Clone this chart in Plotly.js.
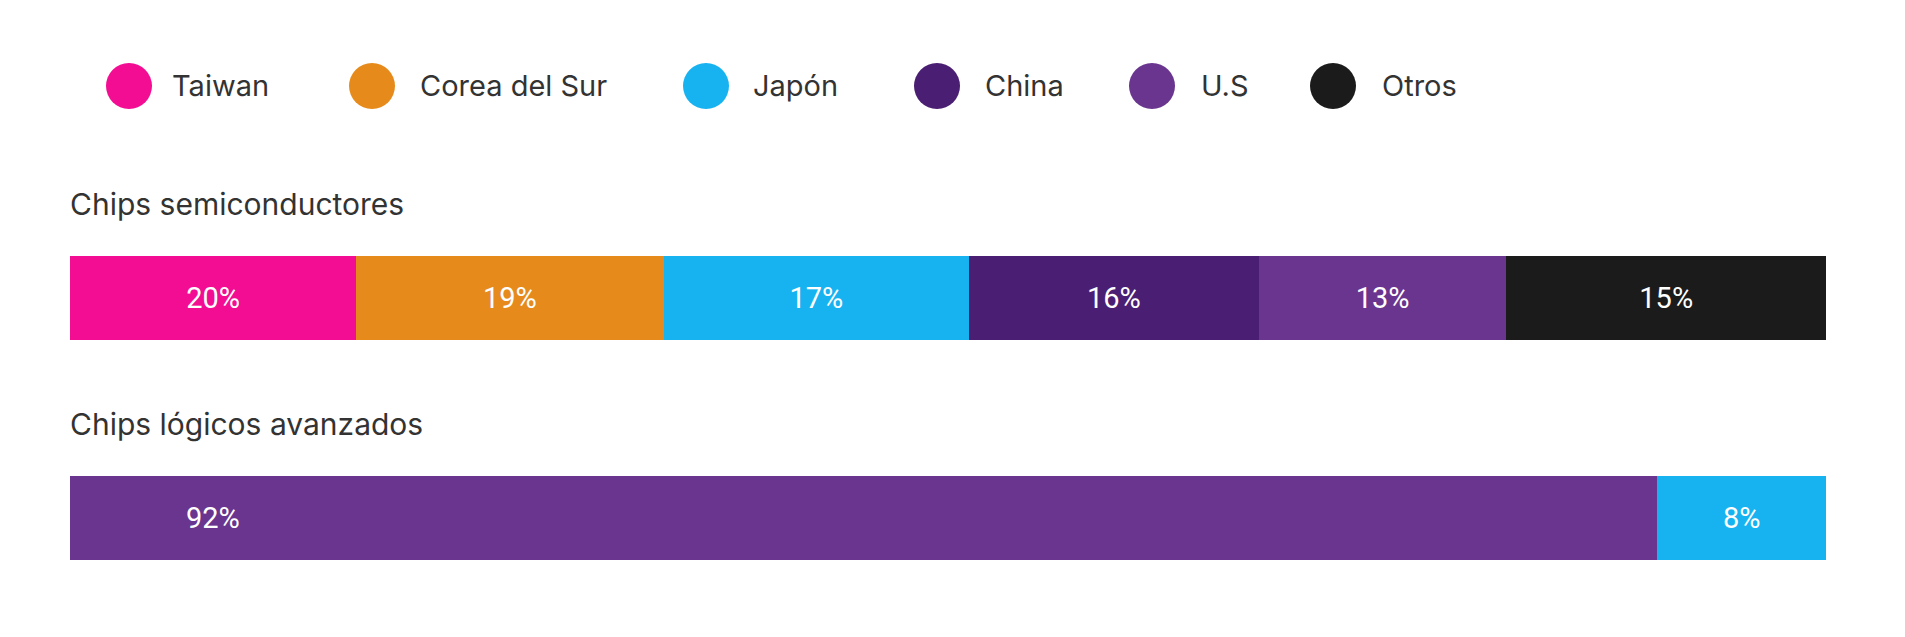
<!DOCTYPE html>
<html>
<head>
<meta charset="utf-8">
<script src="https://cdn.plot.ly/plotly-3.0.1.min.js"></script>
<style>
  html, body { margin: 0; padding: 0; background: #ffffff; }
  #chart { width: 1905px; height: 637px; }
</style>
</head>
<body>
<div id="chart"></div>
<script>
// ---------------- DATA ----------------
const categories = ['Chips semiconductores', 'Chips lógicos avanzados'];

const countries = ['Taiwan', 'Corea del Sur', 'Japón', 'China', 'U.S', 'Otros'];
const countryColors = ['#F20D93', '#E68B1B', '#17B3F1', '#4A1E72', '#69358F', '#1B1B1B'];

// Row 1: Chips semiconductores (bar lengths, labels as printed)
const row1Countries = ['Taiwan', 'Corea del Sur', 'Japón', 'China', 'U.S', 'Otros'];
const row1Shares = [16.3, 17.5, 17.4, 16.5, 14.1, 18.2];
const row1Labels = ['20%', '19%', '17%', '16%', '13%', '15%'];

// Row 2: Chips lógicos avanzados
const row2Countries = ['U.S', 'Japón'];
const row2Shares = [90.4, 9.6];
const row2Labels = ['92%', '8%'];

// ---------------- LAYOUT CONSTANTS ----------------
const W = 1905, H = 637;
const M = {l: 70, r: 79, t: 188, b: 9};
const plotW = W - M.l - M.r, plotH = H - M.t - M.b;
const px2x = px => (px - M.l) / plotW;
const px2y = py => (H - M.b - py) / plotH;

const legendCircleX = [129, 372, 706, 937, 1152, 1333];
const legendTextX = [170, 418, 751, 983, 1199, 1380];
const legendY = 86;
const legendR = 23;

const textFont = 'Inter, "Open Sans", "DejaVu Sans", sans-serif';
const labelFont = 'Roboto, "Open Sans", sans-serif';
const textColor = '#333333';

const colorOf = c => countryColors[countries.indexOf(c)];

// ---------------- TRACES ----------------
const traces = [];
row1Countries.forEach((c, i) => {
  traces.push({
    type: 'bar', orientation: 'h',
    x: [row1Shares[i]], y: [categories[0]],
    name: c,
    marker: {color: colorOf(c), line: {width: 0}},
    text: [row1Labels[i]],
    textposition: 'inside', insidetextanchor: 'middle',
    textfont: {family: labelFont, size: 29, color: '#ffffff'},
    constraintext: 'none',
    showlegend: false, hoverinfo: 'skip'
  });
});
row2Countries.forEach((c, i) => {
  const showInside = i !== 0;
  traces.push({
    type: 'bar', orientation: 'h',
    x: [row2Shares[i]], y: [categories[1]],
    name: c,
    marker: {color: colorOf(c), line: {width: 0}},
    text: [row2Labels[i]],
    textposition: showInside ? 'inside' : 'none', insidetextanchor: 'middle',
    textfont: {family: labelFont, size: 29, color: '#ffffff'},
    constraintext: 'none',
    showlegend: false, hoverinfo: 'skip'
  });
});

// ---------------- ANNOTATIONS / SHAPES ----------------
const annotations = [];
const shapes = [];

// custom legend (large circles)
countries.forEach((c, i) => {
  shapes.push({
    type: 'circle', xref: 'paper', yref: 'paper',
    x0: px2x(legendCircleX[i] - legendR), x1: px2x(legendCircleX[i] + legendR),
    y0: px2y(legendY + legendR), y1: px2y(legendY - legendR),
    fillcolor: countryColors[i], line: {width: 0}
  });
  annotations.push({
    xref: 'paper', yref: 'paper',
    x: px2x(legendTextX[i]), y: px2y(legendY),
    xanchor: 'left', yanchor: 'middle',
    text: c, showarrow: false,
    font: {family: textFont, size: 29, color: textColor}
  });
});

// category titles above bars
categories.forEach((cat) => {
  annotations.push({
    xref: 'paper', yref: 'y',
    x: 0, y: cat, xanchor: 'left', yanchor: 'middle',
    xshift: -2, yshift: 94,
    text: cat, showarrow: false,
    font: {family: textFont, size: 30, color: textColor}
  });
});

// 92% label, aligned with the first label of row 1
annotations.push({
  xref: 'x', yref: 'y',
  x: row1Shares[0] / 2, y: categories[1],
  xanchor: 'center', yanchor: 'middle',
  text: row2Labels[0], showarrow: false,
  font: {family: labelFont, size: 29, color: '#ffffff'}
});

const layout = {
  width: W, height: H,
  margin: M,
  paper_bgcolor: '#ffffff', plot_bgcolor: '#ffffff',
  barmode: 'stack',
  bargap: 0.618,
  showlegend: false,
  xaxis: {range: [0, 100], visible: false, fixedrange: true},
  yaxis: {type: 'category', categoryorder: 'array', categoryarray: categories,
          range: [1.5, -0.5], visible: false, fixedrange: true},
  annotations: annotations,
  shapes: shapes
};

Plotly.newPlot('chart', traces, layout, {staticPlot: true, displayModeBar: false});
</script>
</body>
</html>
